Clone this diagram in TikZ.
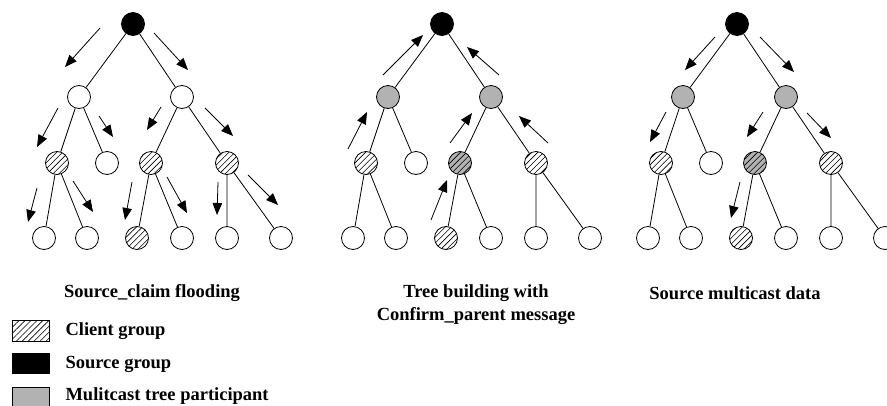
\documentclass[tikz,border=0pt]{standalone}
\usepackage{fontspec}
\setmainfont{Liberation Serif}
\usetikzlibrary{arrows.meta,patterns.meta}

% one multicast tree; #1 name prefix, #2 shift, #3 level-1 style, #4 inner client style
\newcommand{\grouptree}[4]{%
  \begin{scope}[xshift=#2]
    \node[src] (#1-r) at (133,24) {};
    \node[#3] (#1-a) at (79,97) {};
    \node[#3] (#1-b) at (182,97) {};
    \node[client] (#1-aa) at (57,163) {};
    \node[grp] (#1-ab) at (107,163) {};
    \node[#4] (#1-ba) at (151,163) {};
    \node[client] (#1-bb) at (227,163) {};
    \node[grp] (#1-aaa) at (44,238) {};
    \node[grp] (#1-aab) at (87,238) {};
    \node[client] (#1-baa) at (137,238) {};
    \node[grp] (#1-bab) at (182,238) {};
    \node[grp] (#1-bba) at (227,238) {};
    \node[grp] (#1-bbb) at (281,238) {};
    \draw[link] (#1-r) -- (#1-a) (#1-r) -- (#1-b)
      (#1-a) -- (#1-aa) (#1-a) -- (#1-ab)
      (#1-b) -- (#1-ba) (#1-b) -- (#1-bb)
      (#1-aa) -- (#1-aaa) (#1-aa) -- (#1-aab)
      (#1-ba) -- (#1-baa) (#1-ba) -- (#1-bab)
      (#1-bb) -- (#1-bba) (#1-bb) -- (#1-bbb);
  \end{scope}}

\begin{document}
\begin{tikzpicture}[x=1pt, y=-1pt,
    grp/.style = {circle, draw, line width=0.8pt, minimum size=23pt, inner sep=0pt},
    src/.style = {grp, fill=black},
    part/.style = {grp, fill=black!30},
    client/.style = {grp, pattern={Lines[angle=45,distance=4.2pt,line width=0.6pt]}},
    partclient/.style = {client, preaction={fill=black!30}},
    keybox/.style = {rectangle, draw, line width=0.8pt, minimum width=37pt,
      minimum height=20.5pt, inner sep=0pt},
    link/.style = {line width=0.8pt},
    flow/.style = {-{Triangle[length=12pt,width=9.5pt]}, line width=0.8pt},
    caption/.style = {font=\bfseries\fontsize{18.5}{23}\selectfont, align=center}]
  \useasboundingbox (0,0) rectangle (887,405);

  \grouptree{fl}{0}{grp}{client}
  \grouptree{tb}{309}{part}{partclient}
  \grouptree{mc}{604}{part}{partclient}

  % Source_claim flooding
  \foreach \xa/\ya/\xb/\yb in {100/28/65/67, 154/33/188/70, 58/108/37/147,
      99/116/113/137, 161/107/147/130, 205/108/233/136, 37/188/28/222,
      73/181/93/212, 132/182/125/220, 167/177/187/213, 218/182/217/215,
      248/175/278/205}
    \draw[flow] (\xa,\ya) -- (\xb,\yb);
  % Confirm_parent
  \begin{scope}[xshift=309]
    \foreach \xa/\ya/\xb/\yb in {74/75/114/35, 190/75/158/47, 39/149/58/112,
        141/143/163/113, 239/143/210/116, 122/220/138/180}
      \draw[flow] (\xa,\ya) -- (\xb,\yb);
  \end{scope}
  % multicast data
  \begin{scope}[xshift=604]
    \foreach \xa/\ya/\xb/\yb in {111/37/81/70, 156/37/190/72, 62/112/46/142,
        159/112/143/137, 203/113/227/138, 136/182/127/218}
      \draw[flow] (\xa,\ya) -- (\xb,\yb);
  \end{scope}

  \node[caption] (cap-fl) at (152,293) {Source\_claim flooding};
  \node[caption] (cap-tb) at (476,304.5) {Tree building with\\Confirm\_parent message};
  \node[caption] (cap-mc) at (735,293) {Source multicast data};

  % legend
  \node[keybox, pattern={Lines[angle=45,distance=4.2pt,line width=0.6pt]}] (key-cl) at (30.5,331) {};
  \node[keybox, fill=black] (key-src) at (30.5,363.5) {};
  \node[keybox, fill=black!30] (key-pt) at (30.5,398) {};
  \node[caption, anchor=west] at (62,331) {Client group};
  \node[caption, anchor=west] at (62,364) {Source group};
  \node[caption, anchor=west] at (62,396) {Mulitcast tree participant};
\end{tikzpicture}
\end{document}
